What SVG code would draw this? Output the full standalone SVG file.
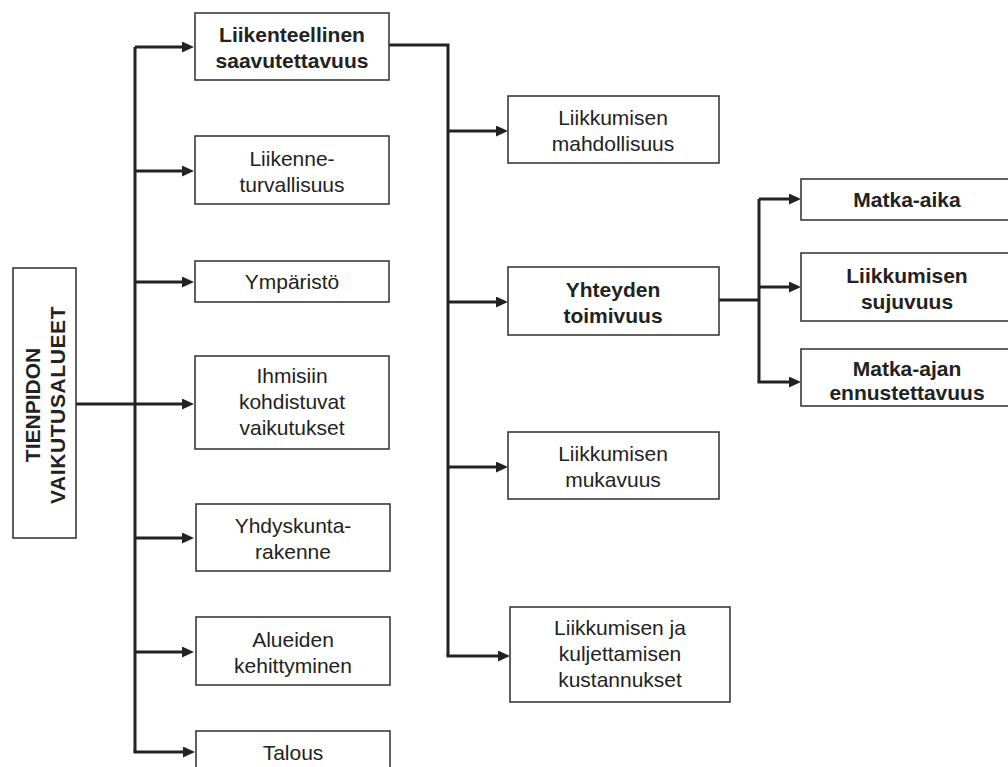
<svg xmlns="http://www.w3.org/2000/svg" width="1008" height="767" viewBox="0 0 1008 767">
<style>
.box{fill:#fff;stroke:#3a3a3a;stroke-width:1.6}
.t{font-family:"Liberation Sans",Arial,sans-serif;font-size:21px;fill:#222;text-anchor:middle}
.b{font-weight:bold}
.c{fill:none;stroke:#222;stroke-width:3}
</style>
<defs>
<marker id="ah" markerUnits="userSpaceOnUse" markerWidth="12" markerHeight="11" refX="4" refY="5.5" orient="auto">
<path d="M0,0 L12,5.5 L0,11 z" fill="#222"/>
</marker>
</defs>
<rect width="1008" height="767" fill="#fff"/>

<g id="connectors">
<path class="c" d="M76,404 H186" marker-end="url(#ah)"/>
<path class="c" d="M135,47 V752"/>
<path class="c" d="M135,47 H186" marker-end="url(#ah)"/>
<path class="c" d="M135,171 H186" marker-end="url(#ah)"/>
<path class="c" d="M135,282 H186" marker-end="url(#ah)"/>
<path class="c" d="M135,538 H186" marker-end="url(#ah)"/>
<path class="c" d="M135,652 H186" marker-end="url(#ah)"/>
<path class="c" d="M133.5,752 H187" marker-end="url(#ah)"/>
<path class="c" d="M389,45 H448 V656"/>
<path class="c" d="M448,131 H500" marker-end="url(#ah)"/>
<path class="c" d="M448,302 H500" marker-end="url(#ah)"/>
<path class="c" d="M448,467 H500" marker-end="url(#ah)"/>
<path class="c" d="M446.5,656 H502" marker-end="url(#ah)"/>
<path class="c" d="M719,300 H759"/>
<path class="c" d="M759,199 V382"/>
<path class="c" d="M759,199 H793" marker-end="url(#ah)"/>
<path class="c" d="M759,287 H793" marker-end="url(#ah)"/>
<path class="c" d="M757.5,382 H793" marker-end="url(#ah)"/>
</g>

<g id="tienpidon">
<rect class="box" x="13" y="268" width="63" height="270"/>
<text class="t b" transform="translate(40,405) rotate(-90)">TIENPIDON</text>
<text class="t b" transform="translate(65,405) rotate(-90)" letter-spacing="0.6">VAIKUTUSALUEET</text>
</g>

<g id="liikenteellinen">
<rect class="box" x="195" y="13" width="194" height="67"/>
<text class="t b" x="292" y="42">Liikenteellinen<tspan x="292" y="68">saavutettavuus</tspan></text>
</g>
<g id="turvallisuus">
<rect class="box" x="195" y="136" width="194" height="68"/>
<text class="t" x="292" y="166">Liikenne-<tspan x="292" y="192">turvallisuus</tspan></text>
</g>
<g id="ymparisto">
<rect class="box" x="195" y="261" width="194" height="41"/>
<text class="t" x="292" y="289">Ympäristö</text>
</g>
<g id="ihmisiin">
<rect class="box" x="195" y="356" width="194" height="93"/>
<text class="t" x="292" y="383">Ihmisiin<tspan x="292" y="409">kohdistuvat</tspan><tspan x="292" y="435">vaikutukset</tspan></text>
</g>
<g id="yhdyskunta">
<rect class="box" x="196" y="504" width="194" height="67"/>
<text class="t" x="293" y="533">Yhdyskunta-<tspan x="293" y="559">rakenne</tspan></text>
</g>
<g id="alueiden">
<rect class="box" x="196" y="617" width="194" height="68"/>
<text class="t" x="293" y="647">Alueiden<tspan x="293" y="673">kehittyminen</tspan></text>
</g>
<g id="talous">
<rect class="box" x="196" y="731" width="194" height="50"/>
<text class="t" x="293" y="760">Talous</text>
</g>

<g id="mahdollisuus">
<rect class="box" x="508" y="96" width="211" height="67"/>
<text class="t" x="613" y="125">Liikkumisen<tspan x="613" y="151">mahdollisuus</tspan></text>
</g>
<g id="yhteyden">
<rect class="box" x="508" y="267" width="211" height="68"/>
<text class="t b" x="613" y="297">Yhteyden<tspan x="613" y="323">toimivuus</tspan></text>
</g>
<g id="mukavuus">
<rect class="box" x="508" y="432" width="211" height="67"/>
<text class="t" x="613" y="461">Liikkumisen<tspan x="613" y="487">mukavuus</tspan></text>
</g>
<g id="kustannukset">
<rect class="box" x="510" y="607" width="220" height="95"/>
<text class="t" x="620" y="635">Liikkumisen ja<tspan x="620" y="661">kuljettamisen</tspan><tspan x="620" y="687">kustannukset</tspan></text>
</g>

<g id="matka-aika">
<rect class="box" x="801" y="179" width="212" height="41"/>
<text class="t b" x="907" y="207">Matka-aika</text>
</g>
<g id="sujuvuus">
<rect class="box" x="801" y="253" width="212" height="68"/>
<text class="t b" x="907" y="283">Liikkumisen<tspan x="907" y="309">sujuvuus</tspan></text>
</g>
<g id="ennustettavuus">
<rect class="box" x="801" y="349" width="212" height="57"/>
<text class="t b" x="907" y="376">Matka-ajan<tspan x="907" y="400">ennustettavuus</tspan></text>
</g>
</svg>
